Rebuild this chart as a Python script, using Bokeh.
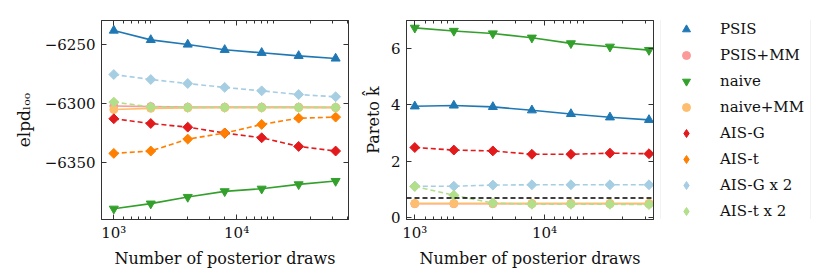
from bokeh.plotting import figure
from bokeh.layouts import row
from bokeh.models import (FixedTicker, CustomJSTickFormatter, LinearAxis, LogAxis,
                          Range1d, Span, Legend, LegendItem, ColumnDataSource)
from bokeh.embed import file_html
from bokeh.resources import INLINE

# ---------------- data ----------------
draws = [1000, 2000, 4000, 8000, 16000, 32000, 64000]

methods = ["PSIS", "PSIS+MM", "naive", "naive+MM", "AIS-G", "AIS-t", "AIS-G x 2", "AIS-t x 2"]

elpd_psis = [-6238.2, -6246.1, -6250.0, -6254.5, -6257.0, -6259.6, -6261.8]
elpd_psis_mm = [-6302.0, -6302.5, -6303.0, -6303.0, -6303.0, -6303.0, -6303.2]
elpd_naive = [-6388.9, -6384.6, -6379.0, -6374.2, -6372.0, -6368.3, -6365.5]
elpd_naive_mm = [-6305.0, -6304.0, -6303.6, -6303.5, -6303.5, -6303.4, -6303.4]
elpd_ais_g = [-6312.8, -6316.8, -6319.9, -6324.9, -6328.9, -6336.2, -6340.1]
elpd_ais_t = [-6342.1, -6340.1, -6330.0, -6324.9, -6317.6, -6312.3, -6311.4]
elpd_ais_g2 = [-6275.4, -6279.6, -6283.0, -6286.3, -6289.2, -6292.3, -6294.2]
elpd_ais_t2 = [-6298.7, -6302.8, -6303.2, -6303.2, -6303.2, -6303.2, -6303.2]

NA = float("nan")
khat_psis = [3.95, 3.98, 3.93, 3.81, 3.68, 3.56, 3.47]
khat_psis_mm = [0.50, 0.50, 0.50, 0.50, 0.50, 0.50, 0.50]
khat_naive = [6.73, 6.62, 6.53, 6.38, 6.18, 6.06, 5.94]
khat_naive_mm = [0.51, 0.51, 0.51, 0.51, 0.51, 0.51, 0.51]
khat_ais_g = [2.49, 2.40, 2.37, 2.25, 2.25, 2.29, 2.27]
khat_ais_t = [NA, NA, NA, NA, NA, NA, NA]  # not visible in the right panel
khat_ais_g2 = [1.12, 1.12, 1.16, 1.17, 1.17, 1.17, 1.17]
khat_ais_t2 = [1.11, 0.80, 0.52, 0.48, 0.48, 0.48, 0.47]
khat_threshold = 0.7

x_ticks = [1000, 10000]
x_minor = [200 * i for i in range(5, 10)] + [2000 * i for i in range(1, 10)] + \
          [20000 * i for i in range(1, 10)]
elpd_ticks = [-6350, -6300, -6250]
khat_ticks = [0, 2, 4, 6]

colors = ["#1f78b4", "#fb9a99", "#33a02c", "#fdbf6f", "#e31a1c", "#ff7f00", "#a6cee3", "#b2df8a"]
markers = ["triangle", "circle", "inverted_triangle", "circle",
           "square", "square", "square", "square"]
legend_markers = ["triangle", "circle", "inverted_triangle", "circle",
                  "diamond", "diamond", "diamond", "diamond"]
angles = [0, 0, 0, 0, 0.7854, 0.7854, 0.7854, 0.7854]
dashes = ["solid", "solid", "solid", "solid", "5 3", "5 3", "5 3", "5 3"]
msizes = [9, 8, 9, 8, 7, 7, 7, 7]

FONT = "DejaVu Serif"
FS = "15px"
LFS = "16px"
AX = "#333333"
H = 280

log_fmt = CustomJSTickFormatter(code="""
const e = Math.round(Math.log10(tick));
const sup = {"0":"\u2070","1":"\u00b9","2":"\u00b2","3":"\u00b3","4":"\u2074","5":"\u2075","6":"\u2076","7":"\u2077","8":"\u2078","9":"\u2079"};
return "10" + String(e).split("").map(c => sup[c]).join("");
""")
minus_fmt = CustomJSTickFormatter(code="""
return tick < 0 ? "\u2212" + Math.abs(tick) : String(tick);
""")
empty_fmt = CustomJSTickFormatter(code="return '';")


def style_axis(ax, minor=True, labels=True):
    ax.axis_line_color = AX
    ax.major_tick_line_color = AX
    ax.major_tick_in = 5
    ax.major_tick_out = 0
    if minor:
        ax.minor_tick_line_color = AX
        ax.minor_tick_in = 3
        ax.minor_tick_out = 0
    else:
        ax.minor_tick_line_color = None
    ax.major_label_text_font = FONT
    ax.major_label_text_font_size = FS if labels else "0px"
    ax.major_label_text_color = "#111111"
    ax.axis_label_text_font = FONT
    ax.axis_label_text_font_size = LFS
    ax.axis_label_text_font_style = "normal"
    ax.axis_label_text_color = "#111111"
    if not labels:
        ax.major_label_standoff = 0


def make_fig(width, height, xr, yr, yticks, ylabel, mb_left, mb_right):
    p = figure(width=width, height=height, x_axis_type="log",
               x_range=Range1d(*xr), y_range=Range1d(*yr),
               output_backend="svg", toolbar_location=None,
               min_border_left=mb_left, min_border_right=mb_right,
               min_border_top=20, min_border_bottom=61)
    p.grid.visible = False
    p.outline_line_color = AX
    p.background_fill_color = "white"
    p.border_fill_color = "white"
    xt = FixedTicker(ticks=x_ticks, minor_ticks=x_minor)
    yt = FixedTicker(ticks=yticks)
    p.xaxis.ticker = xt
    p.xaxis.formatter = log_fmt
    p.xaxis.axis_label = "Number of posterior draws"
    p.yaxis.ticker = yt
    p.yaxis.axis_label = ylabel
    style_axis(p.xaxis[0], minor=True)
    style_axis(p.yaxis[0], minor=False)
    p.xaxis.major_label_standoff = 4
    p.xaxis.axis_label_standoff = 4
    p.yaxis.major_label_standoff = 6
    p.yaxis.axis_label_standoff = 8
    top = LogAxis(ticker=xt, formatter=empty_fmt)
    style_axis(top, minor=True, labels=False)
    p.add_layout(top, "above")
    right = LinearAxis(ticker=yt, formatter=empty_fmt)
    style_axis(right, minor=False, labels=False)
    p.add_layout(right, "right")
    return p


# ---------------- left: elpd ----------------
p1 = make_fig(360, H, (794, 81470), (-6398.0, -6229.7), elpd_ticks,
              "elpd\u2097\u2092\u2092", 101, 12)
p1.yaxis[0].formatter = minus_fmt
p1.yaxis[0].axis_label_text_font_size = "17px"

elpd_series = [elpd_psis, elpd_psis_mm, elpd_naive, elpd_naive_mm,
               elpd_ais_g, elpd_ais_t, elpd_ais_g2, elpd_ais_t2]
for vals, c, m, a, d, s in zip(elpd_series, colors, markers, angles, dashes, msizes):
    src = ColumnDataSource(dict(x=draws, y=vals))
    p1.line("x", "y", source=src, line_color=c, line_width=1.6, line_dash=d)
    p1.scatter("x", "y", source=src, marker=m, angle=a, size=s, fill_color=c, line_color=c)

# ---------------- right: khat ----------------
p2 = make_fig(298, H, (863, 69340), (-0.06, 6.99), khat_ticks,
              "Pareto k\u0302", 44, 5)
p2.yaxis[0].axis_label_standoff = 5

p2.add_layout(Span(location=khat_threshold, dimension="width", line_color="black",
                   line_width=1.6, line_dash="5 3"))

# legend panel (separate figure sharing the same data; its range shows no points)
p3 = figure(width=164, height=H, x_range=Range1d(0, 1), y_range=Range1d(0, 1),
            output_backend="svg", toolbar_location=None,
            x_axis_location=None, y_axis_location=None,
            min_border_left=0, min_border_right=0, min_border_top=0, min_border_bottom=0)
p3.grid.visible = False
p3.outline_line_color = None
p3.border_fill_color = "white"

khat_series = [khat_psis, khat_psis_mm, khat_naive, khat_naive_mm,
               khat_ais_g, khat_ais_t, khat_ais_g2, khat_ais_t2]
items = []
for name, vals, c, m, lm, a, d, s in zip(methods, khat_series, colors, markers,
                                        legend_markers, angles, dashes, msizes):
    src = ColumnDataSource(dict(x=draws, y=vals))
    p2.line("x", "y", source=src, line_color=c, line_width=1.6, line_dash=d)
    p2.scatter("x", "y", source=src, marker=m, angle=a, size=s, fill_color=c, line_color=c)
    r = p3.scatter("x", "y", source=src, marker=lm, size=s, fill_color=c, line_color=c)
    items.append(LegendItem(label=name, renderers=[r]))

legend = Legend(items=items, location=(2, -9), margin=0, padding=6,
                glyph_width=38, glyph_height=20, label_height=20, spacing=6,
                label_standoff=15, label_text_font=FONT, label_text_font_size=FS,
                label_text_color="#111111", border_line_color="#e6e6e6",
                border_line_width=1, background_fill_color="white")
p3.add_layout(legend)

layout = row(p1, p2, p3)
open("out.html", "w").write(file_html(layout, INLINE))
